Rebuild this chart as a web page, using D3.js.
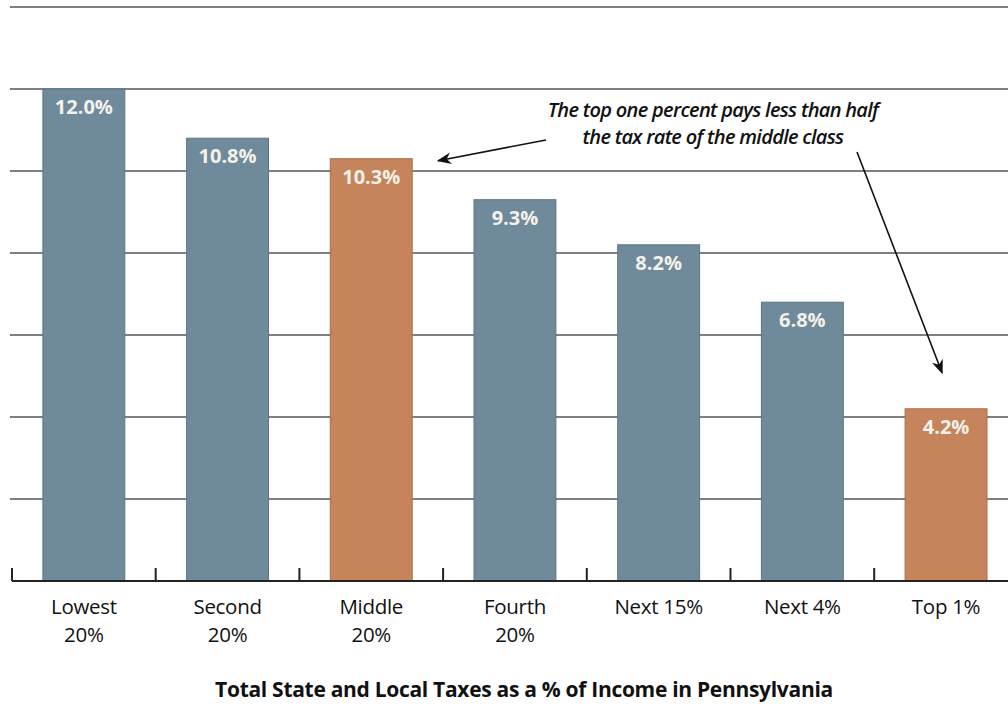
<!DOCTYPE html>
<html>
<head>
<meta charset="utf-8">
<script src="https://cdn.jsdelivr.net/npm/d3@7"></script>
<style>
  body { margin: 0; background: #fff; }
  svg { display: block; font-family: "Open Sans", "Noto Sans", sans-serif; }
</style>
</head>
<body>
<svg id="chart" width="1008" height="704"></svg>
<script>
const categories = [["Lowest", "20%"], ["Second", "20%"], ["Middle", "20%"], ["Fourth", "20%"], ["Next 15%"], ["Next 4%"], ["Top 1%"]];
const taxRates = [12.0, 10.8, 10.3, 9.3, 8.2, 6.8, 4.2];
const highlighted = [false, false, true, false, false, false, true];
const gridValues = [0, 2, 4, 6, 8, 10, 12, 14];
const chartTitle = "Total State and Local Taxes as a % of Income in Pennsylvania";
const noteLines = ["The top one percent pays less than half", "the tax rate of the middle class"];

const svg = d3.select("svg#chart");
const margin = {top: 7, left: 12, bottom: 123};
const chartHeight = 704 - margin.top - margin.bottom;
const step = 143.7;

const rows = categories.map((c, i) => ({key: i, lines: c, value: taxRates[i], hot: highlighted[i]}));

const x = d3.scaleBand().domain(rows.map(d => d.key))
    .range([margin.left, margin.left + step * rows.length])
    .paddingInner(0.43).paddingOuter(0.215);
const y = d3.scaleLinear().domain([0, 14]).range([margin.top + chartHeight, margin.top]);

// gridlines
svg.append("g").selectAll("line").data(gridValues.slice(1))
  .join("line")
    .attr("x1", margin.left - 2).attr("x2", 1008)
    .attr("y1", d => y(d)).attr("y2", d => y(d))
    .attr("stroke", "#555").attr("stroke-width", 1.3);

// bars
svg.append("g").selectAll("rect").data(rows)
  .join("rect")
    .attr("x", d => x(d.key)).attr("width", x.bandwidth())
    .attr("y", d => y(d.value)).attr("height", d => y(0) - y(d.value))
    .attr("fill", d => d.hot ? "#c5845b" : "#6f8a9b")
    .attr("stroke", d => d.hot ? "#a86d48" : "#5c7585").attr("stroke-width", 1);

// value labels
svg.append("g").selectAll("text").data(rows)
  .join("text")
    .attr("x", d => x(d.key) + x.bandwidth() / 2)
    .attr("y", d => y(d.value) + 25)
    .attr("text-anchor", "middle")
    .attr("fill", "#f4f1ea").attr("font-weight", "bold").attr("font-size", 20)
    .text(d => d.value.toFixed(1) + "%");

// x axis with ticks between bands
const axis = svg.append("g");
axis.append("line")
    .attr("x1", margin.left).attr("x2", 1008)
    .attr("y1", y(0)).attr("y2", y(0))
    .attr("stroke", "#222").attr("stroke-width", 2);
axis.selectAll("line.tick").data(d3.range(rows.length))
  .join("line").attr("class", "tick")
    .attr("x1", i => margin.left + i * step).attr("x2", i => margin.left + i * step)
    .attr("y1", y(0) - 13).attr("y2", y(0))
    .attr("stroke", "#222").attr("stroke-width", 2);

// category labels
const cat = svg.append("g").selectAll("text").data(rows)
  .join("text")
    .attr("x", d => x(d.key) + x.bandwidth() / 2)
    .attr("y", y(0) + 33)
    .attr("text-anchor", "middle").attr("font-size", 20.5).attr("letter-spacing", -0.3).attr("fill", "#111");
cat.selectAll("tspan").data(d => d.lines.map((t, j) => ({t, j, cx: x(d.key) + x.bandwidth() / 2})))
  .join("tspan")
    .attr("x", d => d.cx).attr("dy", d => d.j ? 28 : 0)
    .text(d => d.t);

// title
svg.append("text")
    .attr("x", 524).attr("y", 697)
    .attr("text-anchor", "middle").attr("font-weight", "bold").attr("font-size", 21)
    .attr("letter-spacing", -0.3).attr("fill", "#111")
    .text(chartTitle);

// annotation
svg.append("defs").append("marker")
    .attr("id", "head").attr("viewBox", "0 0 10 10").attr("refX", 9).attr("refY", 5)
    .attr("markerWidth", 9).attr("markerHeight", 9).attr("orient", "auto")
  .append("path").attr("d", "M0,1 L10,5 L0,9 L3,5 Z").attr("fill", "#111");

svg.append("g").selectAll("text").data(noteLines)
  .join("text")
    .attr("x", 713).attr("y", (d, i) => 117 + i * 27)
    .attr("text-anchor", "middle").attr("font-style", "italic").attr("font-weight", 600)
    .attr("font-size", 20).attr("letter-spacing", -0.7).attr("fill", "#111")
    .text(d => d);

const middle = rows[2], top1 = rows[6];
svg.append("line")
    .attr("x1", 546).attr("y1", 140)
    .attr("x2", x(middle.key) + x.bandwidth() + 26).attr("y2", y(middle.value) + 2)
    .attr("stroke", "#111").attr("stroke-width", 1.6).attr("marker-end", "url(#head)");
svg.append("line")
    .attr("x1", 857).attr("y1", 152)
    .attr("x2", x(top1.key) + x.bandwidth() / 2 - 4).attr("y2", y(top1.value) - 36)
    .attr("stroke", "#111").attr("stroke-width", 1.6).attr("marker-end", "url(#head)");
</script>
</body>
</html>
